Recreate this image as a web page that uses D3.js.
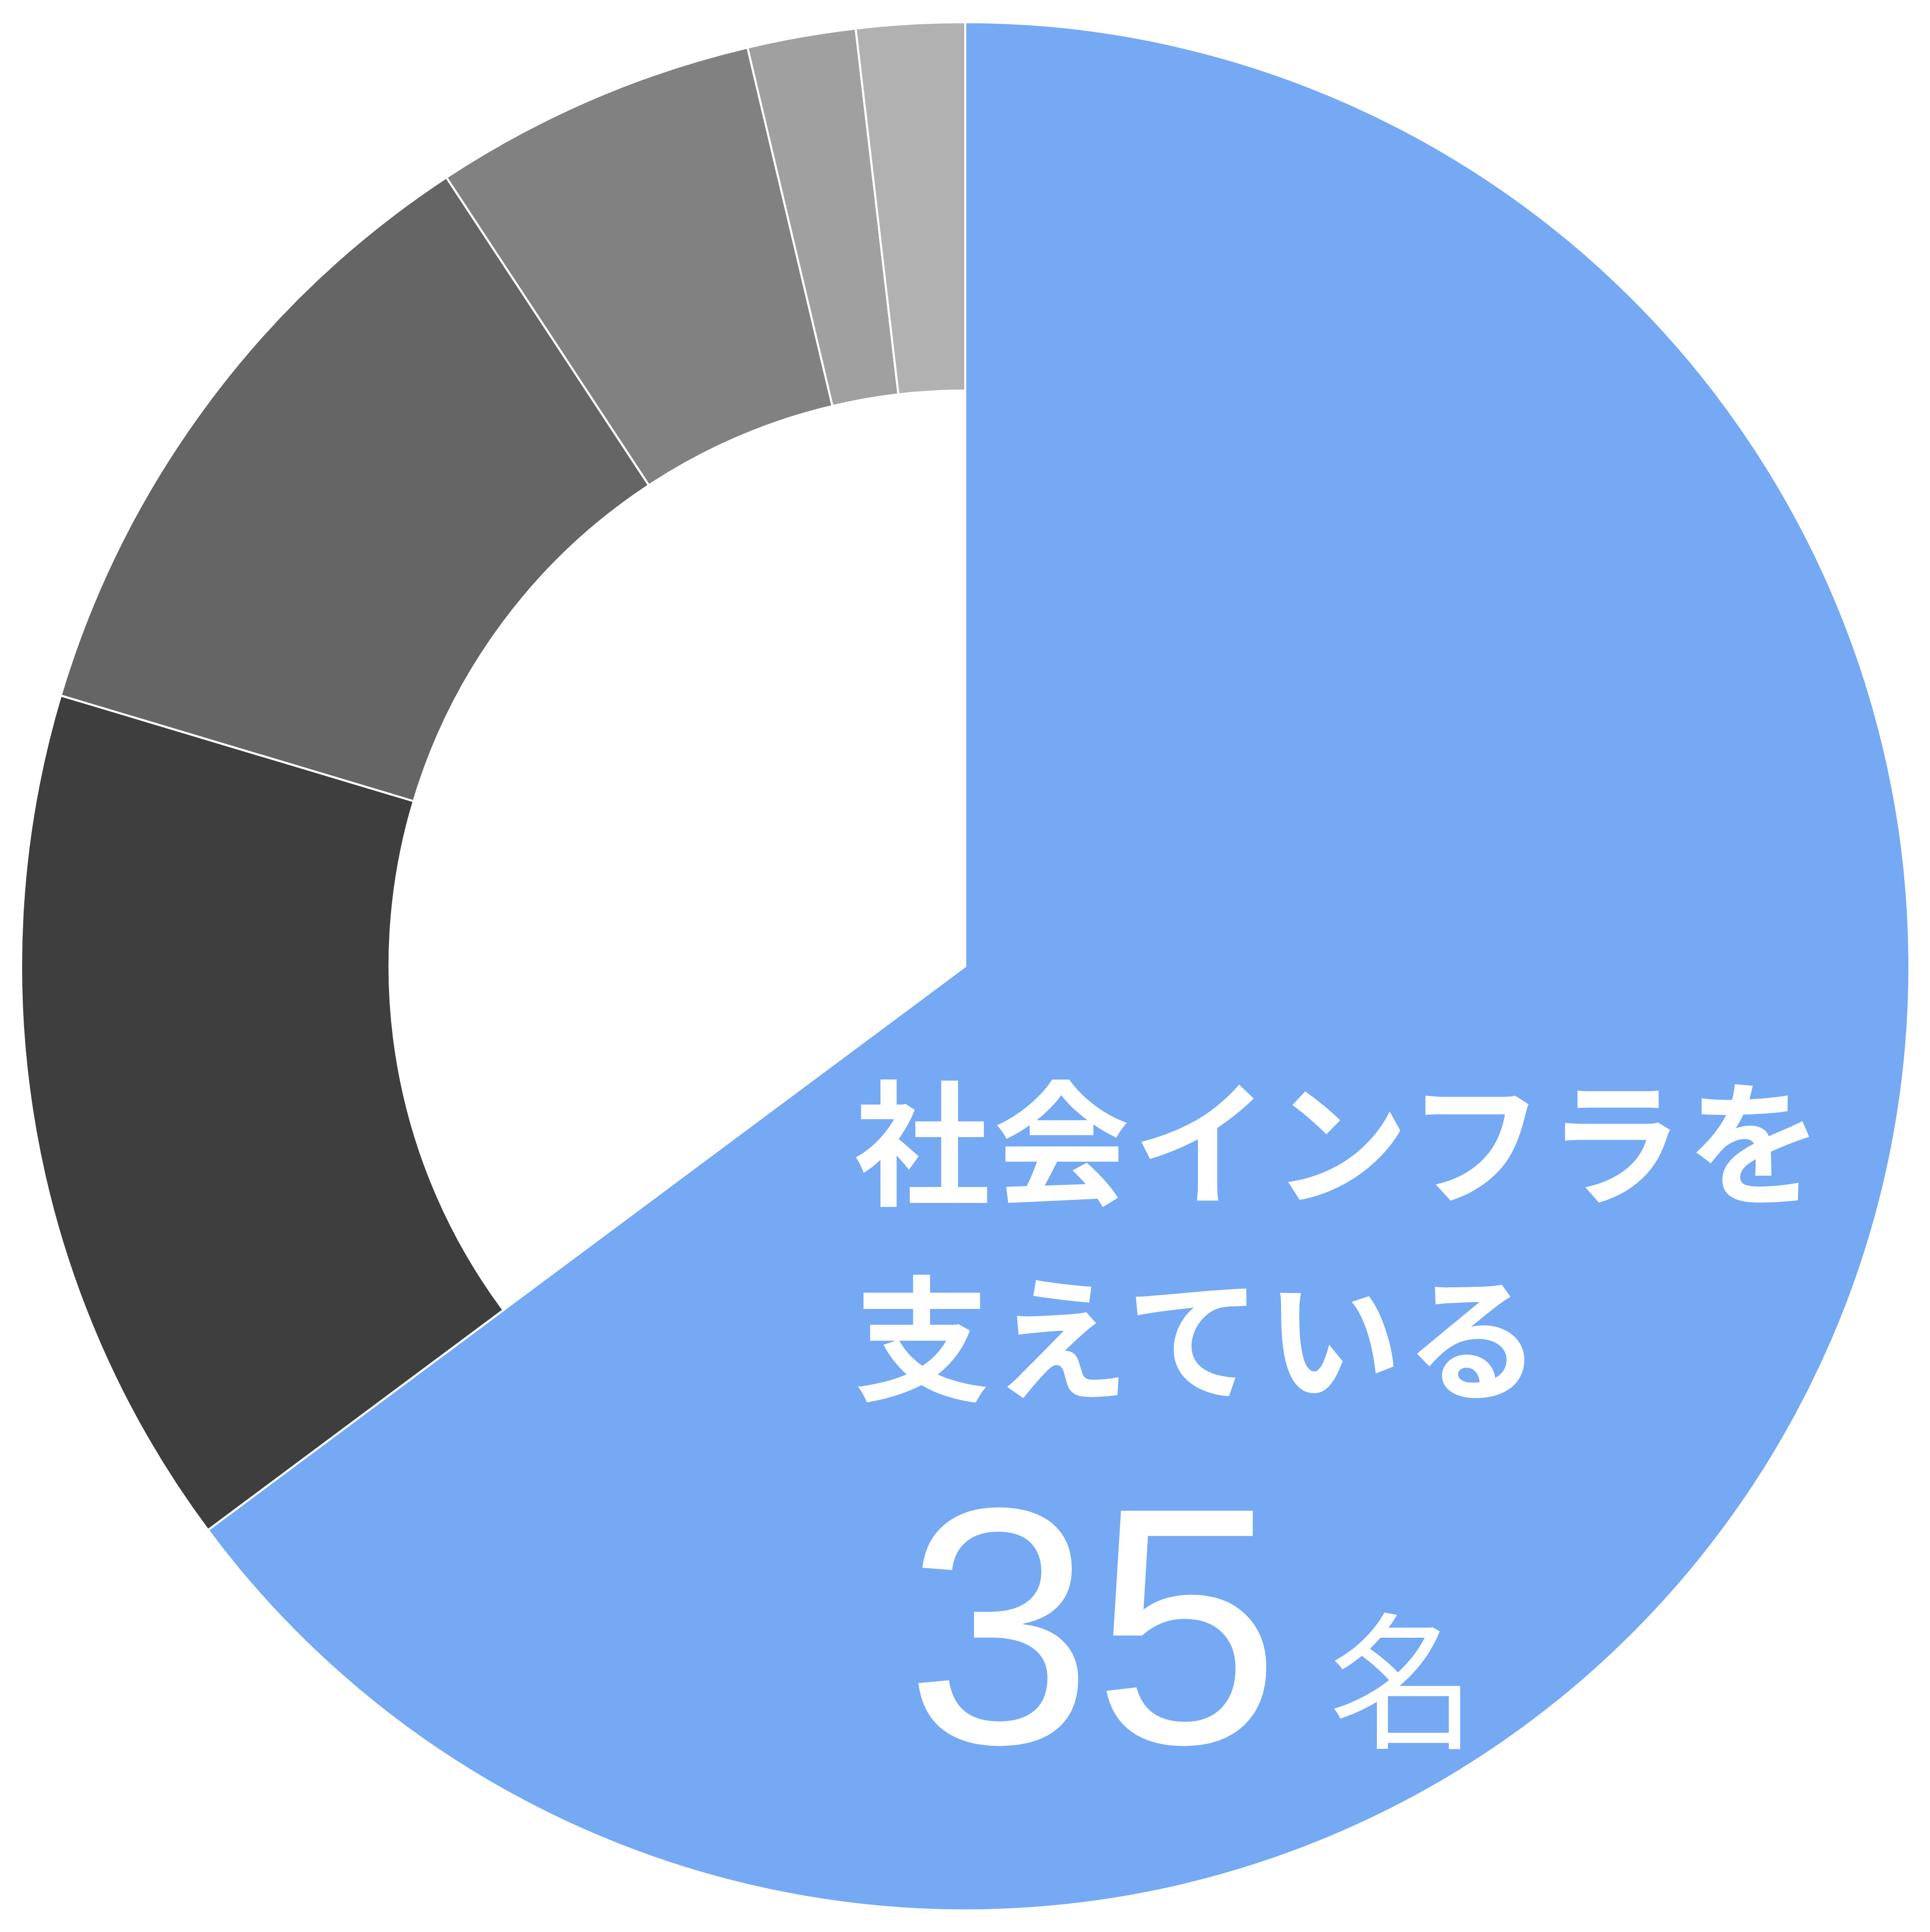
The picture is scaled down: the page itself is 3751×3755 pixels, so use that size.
<!DOCTYPE html>
<html>
<head>
<meta charset="utf-8">
<script src="https://cdn.jsdelivr.net/npm/d3@7"></script>
<style>
  html, body { margin: 0; padding: 0; background: #fff; }
</style>
</head>
<body>
<div id="chart"></div>
<script>
// headcount by group, clockwise from 12 o'clock
const groups = ['社会インフラを支えている', 'group2', 'group3', 'group4', 'group5', 'group6'];
const counts = [35, 8, 6, 3, 1, 1];
const colors = ['#75a9f3', '#3e3e3e', '#656565', '#818181', '#a0a0a0', '#b1b1b1'];

const labelLines = ['社会インフラを', '支えている'];
const bigNumber = '35';
const unit = '名';

const width = 3751, height = 3755;
const cx = 1876, cy = 1878;
const outerR = 1835, innerR = 1119;

const svg = d3.select('#chart')
  .append('svg')
  .attr('width', width)
  .attr('height', height);

const data = groups.map((g, i) => ({name: g, value: counts[i], color: colors[i]}));

const pie = d3.pie()
  .sort(null)
  .value(d => d.value);

// highlighted group is a full wedge, the rest is a ring
const arc = d3.arc()
  .innerRadius(d => d.index === 0 ? 0 : innerR)
  .outerRadius(outerR);

const g = svg.append('g')
  .attr('transform', `translate(${cx},${cy})`);

g.selectAll('path')
  .data(pie(data))
  .join('path')
  .attr('d', arc)
  .attr('fill', d => d.data.color)
  .attr('stroke', '#fff')
  .attr('stroke-width', 4);

// label on the blue slice
const txt = svg.append('g')
  .attr('fill', '#fff');

txt.selectAll('text.line')
  .data(labelLines)
  .join('text')
  .attr('class', 'line')
  .attr('x', 1660)
  .attr('y', (d, i) => 2322 + i * 380)
  .attr('letter-spacing', 7)
  .style('font-family', '"Noto Sans CJK JP", sans-serif')
  .style('font-weight', 700)
  .style('font-size', '264px')
  .text(d => d);

txt.append('text')
  .attr('x', 1760)
  .attr('y', 3387)
  .style('font-family', '"Liberation Sans", Arial, sans-serif')
  .style('font-size', '655px')
  .text(bigNumber);

txt.append('text')
  .attr('x', 2583)
  .attr('y', 3376)
  .style('font-family', '"Noto Sans CJK JP", sans-serif')
  .style('font-weight', 400)
  .style('font-size', '287px')
  .text(unit);
</script>
</body>
</html>
